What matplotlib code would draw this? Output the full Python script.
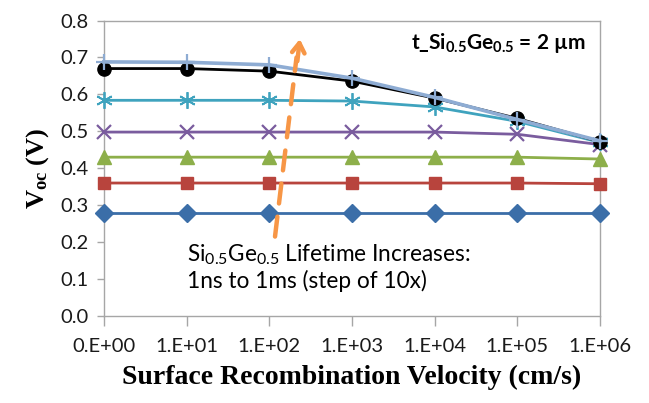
import matplotlib.pyplot as plt

# surface recombination velocity categories (cm/s)
srv_labels = ["0.E+00", "1.E+01", "1.E+02", "1.E+03", "1.E+04", "1.E+05", "1.E+06"]

# Voc (V) for each SiGe lifetime, 1ns ... 1ms
voc_1ns = [0.278, 0.278, 0.278, 0.278, 0.278, 0.278, 0.278]
voc_10ns = [0.360, 0.360, 0.360, 0.360, 0.360, 0.360, 0.358]
voc_100ns = [0.430, 0.430, 0.430, 0.430, 0.430, 0.430, 0.425]
voc_1us = [0.498, 0.498, 0.498, 0.498, 0.498, 0.492, 0.464]
voc_10us = [0.584, 0.584, 0.584, 0.582, 0.566, 0.527, 0.470]
voc_100us = [0.670, 0.670, 0.663, 0.636, 0.590, 0.535, 0.472]
voc_1ms = [0.688, 0.687, 0.680, 0.644, 0.592, 0.532, 0.474]

plt.rcParams["mathtext.fontset"] = "custom"
plt.rcParams["mathtext.rm"] = "Lato"
plt.rcParams["mathtext.bf"] = "Lato:bold"
plt.rcParams["mathtext.sf"] = "Liberation Serif:bold"

fig = plt.figure(figsize=(6.49, 4.03), dpi=100)
ax = fig.add_axes([0.160, 0.216, 0.7645, 0.733])

x = list(range(len(srv_labels)))

series = [
    (voc_1ns, "#3B6EA8", "D", 9, 1.0),
    (voc_10ns, "#B8443D", "s", 8.5, 1.0),
    (voc_100ns, "#8DAF4A", "^", 10, 1.0),
    (voc_1us, "#7A5C9E", "x", 10, 1.6),
    (voc_10us, "#3FA3BE", (6, 2, 0), 12, 1.3),
    (voc_100us, "#000000", "o", 9.5, 1.0),
    (voc_1ms, "#8EACD3", "+", 12, 1.6),
]

for i, (vals, col, mk, ms, mew) in enumerate(series):
    lw = 2.6 if col == "#8EACD3" else 2.0
    ax.plot(x, vals, color=col, lw=lw, marker=mk, ms=ms, mew=mew,
            mec=col, mfc=col, zorder=3 + i, clip_on=False)

ax.set_xlim(0, 6)
ax.set_ylim(0, 0.8)
ax.set_xticks(x)
ax.set_xticklabels(srv_labels)
ax.set_yticks([i / 10 for i in range(9)])
ax.set_yticklabels([f"{i / 10:.1f}" for i in range(9)])

for s in ax.spines.values():
    s.set_color("#A6A6A6")
    s.set_linewidth(1.0)
ax.tick_params(axis="x", direction="out", length=7, width=1, color="#A6A6A6",
               labelsize=14.5, pad=9)
ax.tick_params(axis="y", direction="out", length=5, width=1, color="#A6A6A6",
               labelsize=14.5, pad=6)
for lab in ax.get_xticklabels() + ax.get_yticklabels():
    lab.set_fontfamily("Lato")
    lab.set_color("#1a1a1a")

ax.set_xlabel("Surface Recombination Velocity (cm/s)", fontfamily="Liberation Serif",
              fontweight="bold", fontsize=20, labelpad=7)
ax.set_ylabel("$\\mathsf{V_{oc}}$ (V)", fontfamily="Liberation Serif",
              fontweight="bold", fontsize=19, labelpad=7)

ax.text(0.97, 0.924, "$\\mathbf{t\\_Si_{0.5}Ge_{0.5}}$ = 2 µm", transform=ax.transAxes,
        ha="right", va="center", fontfamily="Lato", fontweight="bold", fontsize=15)

ax.text(1.0, 0.20, "$\\mathregular{Si_{0.5}Ge_{0.5}}$ Lifetime Increases:\n1ns to 1ms (step of 10x)",
        ha="left", va="top", fontfamily="Lato", fontsize=16.3, linespacing=1.15)

# orange dashed arrow
ax.annotate("", xy=(2.33, 0.70), xytext=(2.07, 0.215),
            arrowprops=dict(arrowstyle="-", color="#F79646", lw=3.2,
                            linestyle=(0, (4.5, 3)), shrinkA=0, shrinkB=0), zorder=20)
ax.annotate("", xy=(2.37, 0.75), xytext=(2.34, 0.69),
            arrowprops=dict(arrowstyle="->,head_length=0.7,head_width=0.45",
                            color="#F79646", lw=3.2, shrinkA=0, shrinkB=0), zorder=20)

fig.savefig("out.png", dpi=100)
